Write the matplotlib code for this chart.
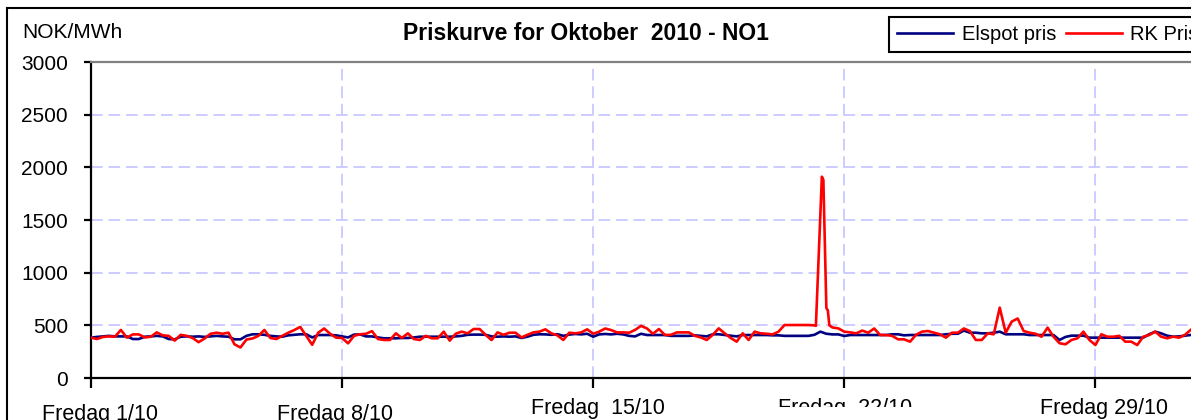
import matplotlib
matplotlib.use("Agg")
import matplotlib.pyplot as plt
import matplotlib.transforms as mtransforms
from matplotlib.patches import Rectangle

# ── Data (NOK/MWh, 4-hourly from 1 Oct 00:00) ─────────────────────────────
elspot = [
    383, 390, 395, 400, 395, 395, 395, 370, 370, 392,   # h0-36
    395, 400, 395, 370, 367, 392, 395, 392, 395, 390,   # h40-76
    395, 400, 395, 392, 367, 367, 400, 415, 415, 410,   # h80-116
    400, 395, 392, 405, 410, 415, 415, 385, 408, 408,   # h120-156
    408, 405, 395, 385, 412, 414, 395, 395, 385, 377,   # h160-196
    377, 377, 380, 380, 385, 392, 392, 392, 392, 392,   # h200-236
    392, 395, 400, 410, 412, 412, 410, 395, 392, 395,   # h240-276
    392, 395, 380, 392, 410, 415, 414, 410, 416, 400,   # h280-316
    412, 418, 414, 420, 392, 414, 418, 414, 420, 414,   # h320-356
    400, 395, 420, 408, 408, 408, 408, 400, 400, 400,   # h360-396
    400, 405, 400, 395, 415, 415, 408, 400, 395, 408,   # h400-436
    408, 408, 408, 408, 405, 405, 400, 400, 400, 400,   # h440-476
    400, 410, 440, 420, 414, 414, 399, 408, 408, 408,   # h480-516
    408, 408, 408, 408, 415, 415, 405, 408, 408, 408,   # h520-556
    408, 408, 408, 415, 420, 420, 450, 430, 430, 424,   # h560-596
    424, 430, 440, 415, 415, 415, 415, 408, 408, 408,   # h600-636
    408, 408, 361, 390, 402, 402, 402, 383, 383, 383,   # h640-676
    383, 383, 383, 383, 383, 383, 383, 415, 440, 424,   # h680-716
    402, 392, 395, 402, 410, 410,                       # h720-740
]
elspot_hours = list(range(0, 741, 4))

rk_pris = [
    383, 370, 390, 395, 392, 456, 383, 414, 414, 385,   # h0-36
    392, 433, 405, 400, 355, 410, 400, 380, 340, 375,   # h40-76
    420, 430, 420, 430, 320, 290, 365, 375, 400, 456,   # h80-116
    380, 370, 400, 430, 455, 485, 400, 315, 430, 470,   # h120-156
    420, 383, 380, 329, 400, 415, 420, 445, 370, 361,   # h160-196
    361, 424, 380, 424, 370, 361, 400, 377, 377, 440,   # h200-236
    355, 420, 440, 424, 465, 465, 410, 360, 433, 410,   # h240-276
    430, 430, 385, 410, 433, 440, 462, 424, 405, 361,   # h280-316
    430, 424, 433, 462, 420, 440, 470, 455, 433, 433,   # h320-356
    430, 456, 495, 470, 420, 465, 408, 410, 433, 433,   # h360-396
    433, 400, 385, 361, 410, 471, 424, 380, 345, 424,   # h400-436
    361, 440, 424, 420, 414, 440, 503, 503, 503, 503,   # h440-476
    503, 500,                                           # h480-484
    495, 1911, 1880, 665, 640, 500,                     # spike 21/10
    480, 471, 440, 433, 424, 450, 430, 470, 408, 408,   # h496-532
    400, 367, 367, 345, 410, 440, 446, 430, 415, 383,   # h536-572
    430, 430, 470, 446, 361, 361, 424, 415, 668, 430,   # h576-612
    535, 565, 446, 430, 420, 392, 478, 392, 330, 320,   # h616-652
    361, 377, 440, 361, 313, 415, 392, 392, 400, 345,   # h656-692
    345, 313, 392, 408, 440, 392, 377, 392, 383, 410,   # h696-732
    460, 450,                                           # h736-740
]
rk_hours = list(range(0, 485, 4)) + [485, 489, 490, 492, 493, 494] + list(range(496, 741, 4))

tick_hours = [0, 168, 336, 504, 672]
tick_labels = ["Fredag 1/10", "Fredag 8/10", "Fredag  15/10", "Fredag  22/10", "Fredag 29/10"]
y_ticks = [0, 500, 1000, 1500, 2000, 2500, 3000]

plt.rcParams["font.family"] = ["Liberation Sans", "DejaVu Sans"]

fig = plt.figure(figsize=(11.91, 4.20), dpi=100)
ax = fig.add_axes([91 / 1191, 42 / 420, 1112 / 1191, 316 / 420])

ax.plot(elspot_hours, elspot, color="#000080", lw=1.9, label="Elspot pris", zorder=3)
ax.plot(rk_hours, rk_pris, color="#FF0000", lw=1.9, label="RK Pris", zorder=4)

ax.set_xlim(0, 744)
ax.set_ylim(0, 3000)
ax.set_yticks(y_ticks)
ax.set_xticks(tick_hours, tick_labels)
ax.grid(True, color="#CCCCFF", linestyle=(0, (6, 3)), lw=1.4)
ax.set_axisbelow(True)

for side in ["left", "bottom"]:
    ax.spines[side].set_color("black")
    ax.spines[side].set_linewidth(1.6)
ax.spines["top"].set_color("#808080")
ax.spines["top"].set_linewidth(1.6)
ax.spines["right"].set_visible(False)

ax.tick_params(axis="y", direction="out", length=5, width=1.6, pad=11.5, labelsize=15)
ax.tick_params(axis="x", direction="out", length=7, width=1.6, pad=12, labelsize=15.5)

# nudge the date labels like in the original (Excel staggered them)
dxs = [9, -7, 5, 1, 9]
dys = [0, 0, 6, 6, 6]
labels = ax.get_xticklabels()
for lab, dx, dy in zip(labels, dxs, dys):
    lab.set_transform(lab.get_transform() + mtransforms.ScaledTranslation(dx / 100, dy / 100, fig.dpi_scale_trans))
labels[3].set_clip_box(mtransforms.Bbox.from_extents(0, 420 - 407, 1191, 420))
labels[3].set_clip_on(True)

leg = ax.legend(loc="upper left", bbox_to_anchor=(889 / 1191, 1 - 17 / 420), bbox_transform=fig.transFigure,
                ncol=2, fontsize=14.5, frameon=True, fancybox=False, edgecolor="black", framealpha=1,
                borderpad=0.4, borderaxespad=0, handlelength=2.8, handletextpad=0.4, columnspacing=0.5)
leg.get_frame().set_linewidth(1.5)

fig.text(586 / 1191, 1 - 33 / 420, "Priskurve for Oktober  2010 - NO1", ha="center", va="center",
         fontsize=16.5, fontweight="bold")
fig.text(22 / 1191, 1 - 33 / 420, "NOK/MWh", ha="left", va="center", fontsize=15)

fig.add_artist(Rectangle((7 / 1191, -0.05), 1.1, 1 - 8 / 420 + 0.05, transform=fig.transFigure,
                         fill=False, edgecolor="black", lw=1.5))

fig.savefig("out.png", dpi=100)
